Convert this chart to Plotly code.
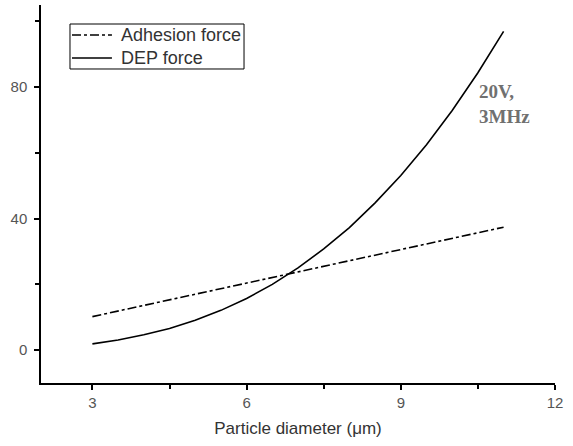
import plotly.graph_objects as go

diameter = [3, 3.5, 4, 4.5, 5, 5.5, 6, 6.5, 7, 7.5, 8, 8.5, 9, 9.5, 10, 10.5, 11]
adhesion_force = [10.2, 11.9, 13.6, 15.3, 17.0, 18.7, 20.4, 22.1, 23.8, 25.5, 27.2, 28.9, 30.6, 32.3, 34.0, 35.7, 37.4]
dep_force = [1.9, 3.1, 4.7, 6.6, 9.1, 12.1, 15.7, 20.0, 25.0, 30.8, 37.3, 44.8, 53.1, 62.5, 72.9, 84.4, 97.0]

series_names = ["Adhesion force", "DEP force"]
series_dash = ["dashdot", "solid"]

x_ticks = [3, 6, 9, 12]
y_ticks = [0, 40, 80]

fig = go.Figure()
for name, ys, dash in zip(series_names, [adhesion_force, dep_force], series_dash):
    fig.add_trace(go.Scatter(x=diameter, y=ys, mode="lines", name=name, showlegend=False,
                             line=dict(color="black", width=1.6, dash=dash)))

# Legend box (drawn as in the original figure, compact)
legend_font = dict(family="Liberation Sans, Arial, sans-serif", size=18, color="#333333")
fig.add_shape(type="rect", xref="paper", yref="paper", x0=0.0564, x1=0.395, y0=0.8307, y1=0.9497,
              line=dict(color="black", width=1), fillcolor="white", layer="above")
row_y = [0.9206, 0.8598]
for name, dash, ry in zip(series_names, series_dash, row_y):
    fig.add_shape(type="line", xref="paper", yref="paper", x0=0.0603, x1=0.138, y0=ry, y1=ry,
                  line=dict(color="black", width=1.6, dash=dash), layer="above")
    fig.add_annotation(x=0.1518, y=ry, xref="paper", yref="paper", text=name, showarrow=False,
                       xanchor="left", yanchor="middle", font=legend_font)

fig.add_annotation(x=10.48, y=75, xref="x", yref="y", text="<b>20V,<br>3MHz</b>",
                   showarrow=False, xanchor="left", yanchor="middle", align="left",
                   font=dict(family="Liberation Serif, Times New Roman, serif", size=19, color="#707070"))

axis_common = dict(showgrid=False, zeroline=False, showline=True, linecolor="black", linewidth=1.5,
                   ticks="outside", ticklen=5, tickwidth=1.5, tickcolor="black",
                   tickfont=dict(family="Liberation Sans, Arial, sans-serif", size=15, color="#555555"),
                   mirror=False, automargin=False)

fig.update_xaxes(range=[2, 12], tickvals=x_ticks,
                 minor=dict(tickvals=[4.5, 7.5, 10.5], ticks="outside", ticklen=4, tickwidth=1.5, tickcolor="black"),
                 title=dict(text="Particle diameter (μm)", standoff=12,
                            font=dict(family="Liberation Sans, Arial, sans-serif", size=17, color="#333333")),
                 **axis_common)
fig.update_yaxes(range=[-10, 105], tickvals=y_ticks, ticklabelstandoff=4,
                 minor=dict(tickvals=[20, 60, 100], ticks="outside", ticklen=4, tickwidth=1.5, tickcolor="black"),
                 **axis_common)

fig.update_layout(
    width=573, height=446,
    margin=dict(l=41, r=18, t=5, b=63, autoexpand=False),
    plot_bgcolor="white", paper_bgcolor="white",
    showlegend=False,
)

fig.write_html("out.html", config={"displayModeBar": False},
               post_script="document.body.style.margin='0';document.body.style.padding='0';")
